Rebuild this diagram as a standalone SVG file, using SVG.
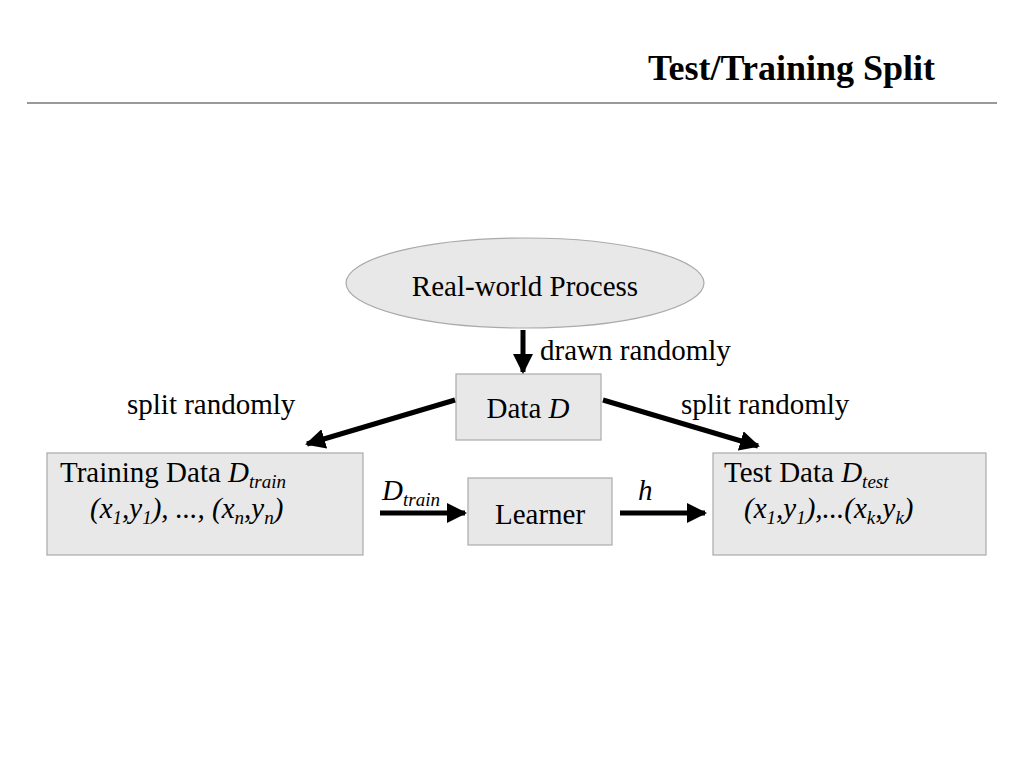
<svg xmlns="http://www.w3.org/2000/svg" width="1024" height="768" viewBox="0 0 1024 768">
<style>
text{font-family:"Liberation Serif","Times New Roman",serif;fill:#000}
.t{font-size:29px}
.s{font-size:19px}
.box{fill:#e8e8e8;stroke:#aaa;stroke-width:1.2}
.a{stroke:#000;stroke-width:5;fill:none;marker-end:url(#ah)}
</style>
<defs><marker id="ah" viewBox="0 0 10 10" refX="9" refY="5" markerWidth="4" markerHeight="4" orient="auto" markerUnits="strokeWidth"><path d="M0,0L10,5L0,10z" fill="#000"/></marker></defs>
<rect width="1024" height="768" fill="#fff"/>
<text x="935" y="80" text-anchor="end" font-size="36" font-weight="bold">Test/Training Split</text>
<line x1="27" y1="103" x2="997" y2="103" stroke="#777" stroke-width="1.5"/>
<g id="process"><ellipse class="box" cx="525" cy="283" rx="179" ry="45"/><text class="t" x="525" y="296" text-anchor="middle">Real-world Process</text></g>
<g id="data"><rect class="box" x="456" y="374" width="145" height="66"/><text class="t" x="528" y="418" text-anchor="middle">Data <tspan font-style="italic">D</tspan></text></g>
<g id="training"><rect class="box" x="47" y="453" width="316" height="102"/>
<text class="t" x="60" y="482">Training Data <tspan font-style="italic">D</tspan><tspan class="s" font-style="italic" dy="6">train</tspan></text>
<text class="t" x="90" y="518" font-style="italic">(x<tspan class="s" dy="6">1</tspan><tspan dy="-6">,y</tspan><tspan class="s" dy="6">1</tspan><tspan dy="-6">), ..., (x</tspan><tspan class="s" dy="6">n</tspan><tspan dy="-6">,y</tspan><tspan class="s" dy="6">n</tspan><tspan dy="-6">)</tspan></text></g>
<g id="learner"><rect class="box" x="468" y="478" width="144" height="67"/><text class="t" x="540" y="524" text-anchor="middle">Learner</text></g>
<g id="test"><rect class="box" x="713" y="453" width="273" height="102"/>
<text class="t" x="724" y="482">Test Data <tspan font-style="italic">D</tspan><tspan class="s" font-style="italic" dy="6">test</tspan></text>
<text class="t" x="744" y="518" font-style="italic">(x<tspan class="s" dy="6">1</tspan><tspan dy="-6">,y</tspan><tspan class="s" dy="6">1</tspan><tspan dy="-6">),...(x</tspan><tspan class="s" dy="6">k</tspan><tspan dy="-6">,y</tspan><tspan class="s" dy="6">k</tspan><tspan dy="-6">)</tspan></text></g>
<g id="connectors">
<line class="a" x1="523" y1="330" x2="523" y2="372"/>
<line class="a" x1="455" y1="400" x2="307" y2="444"/>
<line class="a" x1="603" y1="400" x2="758" y2="446"/>
<line class="a" x1="380" y1="513" x2="465" y2="513"/>
<line class="a" x1="620" y1="513" x2="705" y2="513"/>
<text class="t" x="540" y="360">drawn randomly</text>
<text class="t" x="127" y="414">split randomly</text>
<text class="t" x="681" y="414">split randomly</text>
<text class="t" x="382" y="500" font-style="italic">D<tspan class="s" dy="6">train</tspan></text>
<text class="t" x="638" y="500" font-style="italic">h</text>
</g>
</svg>
